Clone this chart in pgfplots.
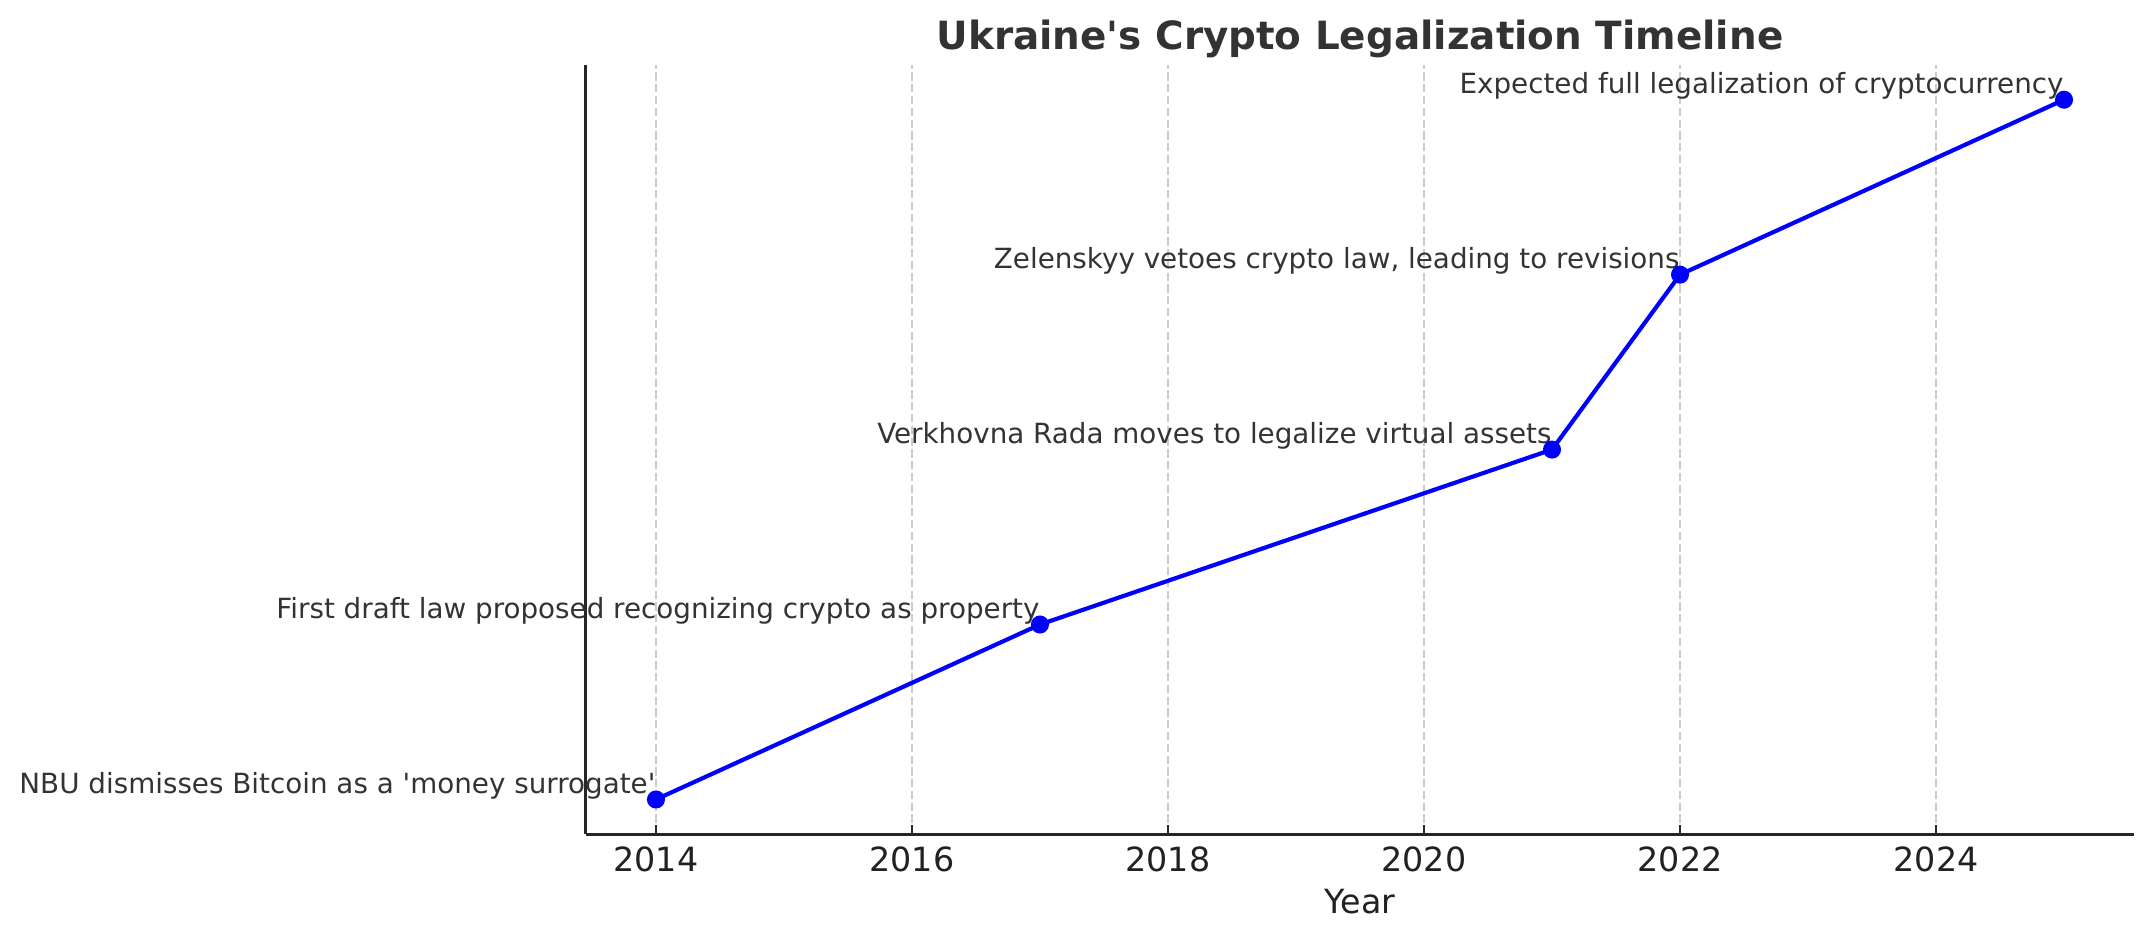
\documentclass[border=0pt]{standalone}
\usepackage{fontspec}
\setmainfont{DejaVu Sans}
\usepackage{pgfplots}
\pgfplotsset{compat=1.18}
\definecolor{txt}{HTML}{333333}
\definecolor{spine}{HTML}{262626}
\definecolor{gridc}{HTML}{CCCCCC}
\begin{document}
\begin{tikzpicture}
\begin{axis}[
  width=557.6pt, height=277.1pt, scale only axis,
  xmin=2013.45, xmax=2025.55, ymin=-0.2, ymax=4.2,
  axis x line=bottom, axis y line=left,
  axis line style={-, line width=0.8pt, color=spine},
  xtick={2014,2016,2018,2020,2022,2024},
  ytick=\empty,
  tick align=inside,
  major tick length=3.5pt,
  every tick/.style={line width=0.8pt, color=spine},
  xmajorgrids,
  grid style={gridc, line width=0.8pt, dash pattern=on 2.96pt off 1.28pt},
  /pgf/number format/assume math mode=true,
  /pgf/number format/1000 sep={},
  xticklabel style={font=\fontsize{12}{14}\selectfont, text=black!87, inner sep=0pt, anchor=north, yshift=-4.3pt},
  xlabel={Year},
  every axis x label/.style={at={(axis description cs:0.5,0)}, anchor=base, yshift=-28.5pt, font=\fontsize{12}{14}\selectfont, text=black!87},
  title={Ukraine\textquotesingle s Crypto Legalization Timeline},
  every axis title/.style={at={(axis description cs:0.5,1)}, anchor=base, yshift=5.5pt, font=\fontsize{14}{17}\selectfont\bfseries, text=txt},
  clip=false,
]
\addplot[color=blue, line width=1.5pt, mark=*, mark size=3pt, mark options={solid, fill=blue, draw=blue, line width=0.5pt}] table {
x y
2014 0
2017 1
2021 2
2022 3
2025 4
};
\begin{scope}[every node/.style={anchor=south east, inner sep=0pt, font=\fontsize{10}{12}\selectfont, text=txt}]
\node at (axis cs:2014,0) {NBU dismisses Bitcoin as a \textquotesingle money surrogate\textquotesingle};
\node at (axis cs:2017,1) {First draft law proposed recognizing crypto as property};
\node at (axis cs:2021,2) {Verkhovna Rada moves to legalize virtual assets};
\node at (axis cs:2022,3) {Zelenskyy vetoes crypto law, leading to revisions};
\node at (axis cs:2025,4) {Expected full legalization of cryptocurrency};
\end{scope}
\coordinate (SW) at (rel axis cs:0,0);
\coordinate (NE) at (rel axis cs:1,1);
\end{axis}
\pgfresetboundingbox
\useasboundingbox ([xshift=-210.8pt,yshift=-39.1pt]SW) rectangle ([xshift=7.4pt,yshift=23.3pt]NE);
\end{tikzpicture}
\end{document}
